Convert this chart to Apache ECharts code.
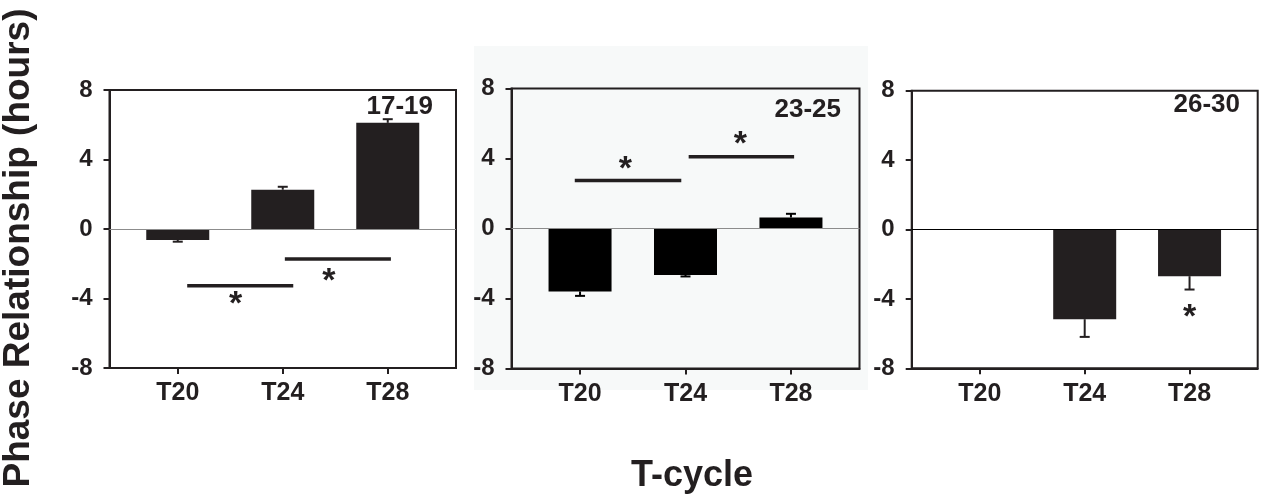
<!DOCTYPE html>
<html>
<head>
<meta charset="utf-8">
<script src="https://cdn.jsdelivr.net/npm/echarts@6/dist/echarts.min.js"></script>
<style>
  html, body { margin: 0; padding: 0; background: #ffffff; }
  #chart { width: 1266px; height: 497px; }
</style>
</head>
<body>
<div id="chart"></div>
<script>
// T-cycle groups shown on each panel's x axis
const categories = ['T20', 'T24', 'T28'];
const panelLabels = ['17-19', '23-25', '26-30'];
const yTicks = [-8, -4, 0, 4, 8];

// Phase relationship (hours): mean and SEM per T-cycle
const means1 = [-0.63, 2.26, 6.11];
const sem1 = [0.10, 0.17, 0.21];
const means2 = [-3.60, -2.65, 0.63];
const sem2 = [0.25, 0.09, 0.21];
const means3 = [null, -5.17, -2.69];
const sem3 = [null, 1.02, 0.77];

// Significance brackets [fromCategory, toCategory, y] and asterisks [x, y]
const brackets1 = [[0.09, 1.10, -3.26], [1.02, 2.03, -1.72]];
const stars1 = [[0.55, -3.97], [1.44, -2.64]];
const brackets2 = [[-0.05, 0.96, 2.74], [1.03, 2.03, 4.10]];
const stars2 = [[0.43, 3.77], [1.52, 5.20]];
const brackets3 = [];
const stars3 = [[2.00, -4.65]];

const INK = '#231f20';
const FONT = '"Liberation Sans", Arial, Helvetica, sans-serif';

const panels = [
  { means: means1, sem: sem1, brackets: brackets1, stars: stars1, bar: INK, zero: '#8c8c8c',
    grid: { left: 109.5, top: 90, width: 346.5, height: 278 } },
  { means: means2, sem: sem2, brackets: brackets2, stars: stars2, bar: '#000000', zero: '#8c8c8c',
    grid: { left: 511.5, top: 88.5, width: 348, height: 280 } },
  { means: means3, sem: sem3, brackets: brackets3, stars: stars3, bar: INK, zero: '#000000',
    grid: { left: 911.7, top: 90.7, width: 346, height: 277.6 } }
];

const grids = [], xAxes = [], yAxes = [], series = [];

panels.forEach(function (p, i) {
  grids.push(Object.assign({ show: true, borderColor: INK, borderWidth: 2, backgroundColor: 'transparent' }, p.grid));

  xAxes.push({
    gridIndex: i, type: 'value', min: -0.65, max: 2.65,
    splitLine: { show: false },
    axisLine: { show: true, onZero: false, lineStyle: { color: INK, width: 2 } },
    axisTick: { show: true, customValues: [0, 1, 2], length: 6, lineStyle: { color: INK, width: 2 } },
    axisLabel: {
      customValues: [0, 1, 2], margin: 13,
      formatter: function (v) { return categories[Math.round(v)]; },
      color: INK, fontFamily: FONT, fontWeight: 'bold', fontSize: 25
    }
  });

  yAxes.push({
    gridIndex: i, type: 'value', min: yTicks[0], max: yTicks[yTicks.length - 1], interval: 4,
    splitLine: { show: false },
    axisLine: { show: true, onZero: false, lineStyle: { color: INK, width: 2 } },
    axisTick: { show: true, length: 6, lineStyle: { color: INK, width: 2 } },
    axisLabel: { margin: 17, color: INK, fontFamily: FONT, fontWeight: 'bold', fontSize: 24 }
  });

  // bars
  series.push({
    type: 'bar', xAxisIndex: i, yAxisIndex: i, barWidth: 63,
    itemStyle: { color: p.bar },
    data: p.means.map(function (m, k) { return [k, m]; }),
    markLine: {
      silent: true, symbol: 'none', label: { show: false },
      lineStyle: { color: p.zero, width: 1, type: 'solid' },
      data: [{ yAxis: 0 }]
    },
    z: 2
  });

  // one-sided error bars
  series.push({
    type: 'custom', xAxisIndex: i, yAxisIndex: i, silent: true, z: 3,
    data: p.means.map(function (m, k) {
      if (m === null) return [k, null, null];
      return [k, m, m + (m < 0 ? -p.sem[k] : p.sem[k])];
    }),
    renderItem: function (params, api) {
      if (api.value(1) === null || isNaN(api.value(1))) return;
      const a = api.coord([api.value(0), api.value(1)]);
      const b = api.coord([api.value(0), api.value(2)]);
      const style = { stroke: p.bar, lineWidth: 2 };
      return {
        type: 'group', children: [
          { type: 'line', shape: { x1: a[0], y1: a[1], x2: b[0], y2: b[1] }, style: style },
          { type: 'line', shape: { x1: b[0] - 5, y1: b[1], x2: b[0] + 5, y2: b[1] }, style: style }
        ]
      };
    }
  });

  // significance bars
  series.push({
    type: 'custom', xAxisIndex: i, yAxisIndex: i, silent: true, z: 3,
    data: p.brackets,
    renderItem: function (params, api) {
      const a = api.coord([api.value(0), api.value(2)]);
      const b = api.coord([api.value(1), api.value(2)]);
      return { type: 'line', shape: { x1: a[0], y1: a[1], x2: b[0], y2: b[1] },
               style: { stroke: INK, lineWidth: 3.5 } };
    }
  });

  // asterisks
  series.push({
    type: 'custom', xAxisIndex: i, yAxisIndex: i, silent: true, z: 3,
    data: p.stars,
    renderItem: function (params, api) {
      const c = api.coord([api.value(0), api.value(1)]);
      return { type: 'text', x: c[0], y: c[1] + 7,
               style: { text: '*', fill: INK, font: 'bold 34px ' + FONT, align: 'center', verticalAlign: 'middle' } };
    }
  });
});

const chart = echarts.init(document.getElementById('chart'), null, { renderer: 'canvas' });
chart.setOption({
  animation: false,
  backgroundColor: '#ffffff',
  grid: grids, xAxis: xAxes, yAxis: yAxes, series: series,
  graphic: [
    { type: 'rect', z: -10, silent: true, shape: { x: 474, y: 46, width: 394, height: 344 },
      style: { fill: '#f7f9f9' } },
    { type: 'text', x: 433, y: 107, style: { text: panelLabels[0], fill: INK, font: 'bold 26px ' + FONT, align: 'right', verticalAlign: 'middle' } },
    { type: 'text', x: 841, y: 110, style: { text: panelLabels[1], fill: INK, font: 'bold 26px ' + FONT, align: 'right', verticalAlign: 'middle' } },
    { type: 'text', x: 1240, y: 105, style: { text: panelLabels[2], fill: INK, font: 'bold 26px ' + FONT, align: 'right', verticalAlign: 'middle' } },
    { type: 'text', x: 19, y: 248, rotation: Math.PI / 2,
      style: { text: 'Phase Relationship (hours)', fill: INK, font: 'bold 37px ' + FONT, align: 'center', verticalAlign: 'middle' } },
    { type: 'text', x: 692, y: 476,
      style: { text: 'T-cycle', fill: INK, font: 'bold 36px ' + FONT, align: 'center', verticalAlign: 'middle' } }
  ]
});
</script>
</body>
</html>
